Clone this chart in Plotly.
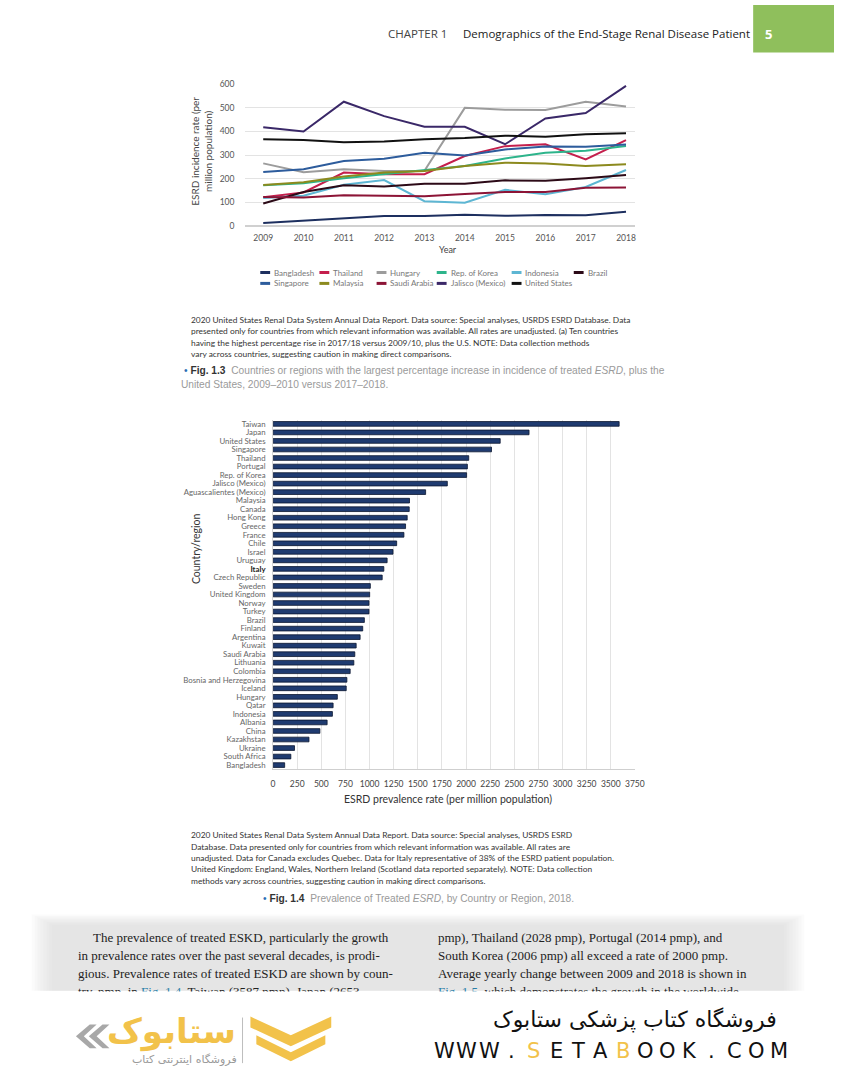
import plotly.graph_objects as go

W, H = 844, 1080

# ---------------- Data: Fig 1.3 (incidence) ----------------
years = [2009, 2010, 2011, 2012, 2013, 2014, 2015, 2016, 2017, 2018]
inc_bangladesh = [12, 21, 31, 42, 42, 47, 43, 46, 45, 60]
inc_singapore = [228, 240, 275, 285, 310, 298, 324, 336, 335, 345]
inc_thailand = [121, 142, 226, 219, 219, 296, 338, 346, 282, 363]
inc_malaysia = [173, 185, 209, 226, 233, 254, 268, 264, 254, 261]
inc_hungary = [265, 227, 240, 233, 234, 500, 492, 491, 526, 506]
inc_saudi = [123, 120, 130, 127, 126, 135, 144, 144, 162, 163]
inc_korea = [172, 181, 202, 219, 234, 254, 286, 310, 318, 339]
inc_jalisco = [418, 400, 526, 465, 420, 420, 346, 455, 478, 593]
inc_indonesia = [118, 128, 174, 194, 105, 98, 153, 134, 165, 237]
inc_us = [367, 364, 354, 358, 367, 372, 382, 378, 388, 393]
inc_brazil = [95, 144, 172, 167, 179, 179, 193, 191, 202, 216]

series_names = ["Bangladesh", "Thailand", "Hungary", "Rep. of Korea", "Indonesia", "Brazil",
                "Singapore", "Malaysia", "Saudi Arabia", "Jalisco (Mexico)", "United States"]
series_values = [inc_bangladesh, inc_thailand, inc_hungary, inc_korea, inc_indonesia, inc_brazil,
                 inc_singapore, inc_malaysia, inc_saudi, inc_jalisco, inc_us]
series_colors = ["#1d2f5f", "#c41f4c", "#9c9c9c", "#2db48b", "#5db6d3", "#2c0a17",
                 "#2d5c9c", "#8c8a1e", "#8c1436", "#3a2868", "#111111"]
year_ticks = [str(y) for y in years]
inc_ticks = [0, 100, 200, 300, 400, 500, 600]

# ---------------- Data: Fig 1.4 (prevalence) ----------------
countries = ["Taiwan", "Japan", "United States", "Singapore", "Thailand", "Portugal", "Rep. of Korea",
             "Jalisco (Mexico)", "Aguascalientes (Mexico)", "Malaysia", "Canada", "Hong Kong", "Greece",
             "France", "Chile", "Israel", "Uruguay", "Italy", "Czech Republic", "Sweden", "United Kingdom",
             "Norway", "Turkey", "Brazil", "Finland", "Argentina", "Kuwait", "Saudi Arabia", "Lithuania",
             "Colombia", "Bosnia and Herzegovina", "Iceland", "Hungary", "Qatar", "Indonesia", "Albania",
             "China", "Kazakhstan", "Ukraine", "South Africa", "Bangladesh"]
prevalence = [3587, 2653, 2354, 2264, 2028, 2014, 2006,
              1806, 1581, 1414, 1411, 1390, 1373,
              1356, 1281, 1243, 1182, 1148, 1131, 1008, 1001,
              994, 994, 946, 929, 902, 861, 847, 837,
              799, 765, 758, 666, 622, 615, 560,
              485, 372, 222, 184, 120]
prev_ticks = list(range(0, 3751, 250))


def px(x):
    return x / W


def py(y):
    return 1 - y / H


SANS = "Lato"
annotations = []
shapes = []


def ann(text, x, y, size, color="#333", xanchor="left", family=SANS, **kw):
    d = dict(text=text, x=px(x), y=py(y), xref="paper", yref="paper", xanchor=xanchor,
             yanchor="middle", showarrow=False, font=dict(size=size, color=color, family=family))
    d.update(kw)
    annotations.append(d)


def rect(x0, y0, x1, y1, color, layer="below", opacity=1):
    shapes.append(dict(type="rect", xref="paper", yref="paper", x0=px(x0), x1=px(x1),
                       y0=py(y1), y1=py(y0), fillcolor=color, line=dict(width=0),
                       layer=layer, opacity=opacity))


def poly(points, color, layer="above"):
    path = "M " + " L ".join(f"{px(a):.5f},{py(b):.5f}" for a, b in points) + " Z"
    shapes.append(dict(type="path", xref="paper", yref="paper", path=path, fillcolor=color,
                       line=dict(width=0), layer=layer))


fig = go.Figure()

for name, vals, col in zip(series_names, series_values, series_colors):
    fig.add_trace(go.Scatter(x=years, y=vals, mode="lines", name=name, xaxis="x", yaxis="y",
                             line=dict(color=col, width=2), showlegend=False))

bar_ticktext = ["<span style='color:#222'><b>Italy</b></span>" if c == "Italy" else c for c in countries]
fig.add_trace(go.Bar(x=prevalence, y=countries, orientation="h", xaxis="x2", yaxis="y2",
                     marker=dict(color="#1f3b70", line=dict(color="#0b1730", width=0.8)),
                     showlegend=False, width=0.55))

# ---------------- Header ----------------
rect(762, 0, 844, 48, "#8fbf5c")
ann("<b>5</b>", 772, 29, 13, "#ffffff", family="Open Sans")
ann("CHAPTER 1", 390, 29, 11.5, "#444", family="Open Sans")
ann("Demographics of the End-Stage Renal Disease Patient", 466, 29, 11.5, "#222", family="Open Sans")

# ---------------- Line chart labels ----------------
ann("ESRD incidence rate (per<br>million population)", 203, 148, 10, "#444", xanchor="center",
    textangle=-90)
ann("Year", 452, 247, 9, "#444", xanchor="center")

# manual legend
leg_cols = [262, 322, 380, 441, 517, 580]
leg_rows = [270, 281]
for i, (name, col) in enumerate(zip(series_names, series_colors)):
    r, c = divmod(i, 6)
    x0, y0 = leg_cols[c], leg_rows[r]
    shapes.append(dict(type="line", xref="paper", yref="paper", x0=px(x0), x1=px(x0 + 10),
                       y0=py(y0), y1=py(y0), line=dict(color=col, width=3)))
    ann(name, x0 + 12, y0, 8, "#777")

cap1 = ["2020 United States Renal Data System Annual Data Report. Data source: Special analyses, USRDS ESRD Database. Data",
        "presented only for countries from which relevant information was available. All rates are unadjusted. (a) Ten countries",
        "having the highest percentage rise in 2017/18 versus 2009/10, plus the U.S. NOTE: Data collection methods",
        "vary across countries, suggesting caution in making direct comparisons."]
for i, t in enumerate(cap1):
    ann(t, 190, 318 + i * 11.5, 8.4, "#333")

ann("<span style='color:#2a6fb4'>•</span> <b><span style='color:#333'>Fig. 1.3</span></b>  Countries or regions with the largest percentage increase in incidence of treated <i>ESRD</i>, plus the",
    183, 369, 10.2, "#9a9a9a", family="Liberation Sans")
ann("United States, 2009–2010 versus 2017–2018.", 180, 383, 10.2, "#9a9a9a", family="Liberation Sans")

# ---------------- Bar chart labels ----------------
ann("Country/region", 197, 549, 10.5, "#333", xanchor="center", textangle=-90)
ann("ESRD prevalence rate (per million population)", 452, 801, 10.5, "#333", xanchor="center")

cap2 = ["2020 United States Renal Data System Annual Data Report. Data source: Special analyses, USRDS ESRD",
        "Database. Data presented only for countries from which relevant information was available. All rates are",
        "unadjusted. Data for Canada excludes Quebec. Data for Italy representative of 38% of the ESRD patient population.",
        "United Kingdom: England, Wales, Northern Ireland (Scotland data reported separately). NOTE: Data collection",
        "methods vary across countries, suggesting caution in making direct comparisons."]
for i, t in enumerate(cap2):
    ann(t, 190, 838 + i * 11.5, 8.4, "#333")

ann("<span style='color:#2a6fb4'>•</span> <b><span style='color:#333'>Fig. 1.4</span></b>  Prevalence of Treated <i>ESRD</i>, by Country or Region, 2018.",
    263, 902, 10.2, "#9a9a9a", family="Liberation Sans")

# ---------------- Body text on grey band ----------------
for k in range(8):
    rect(30 + k * 3, 918 + k * 1.5, 814 - k * 3, 995, "#d8d8d8", opacity=0.09)
SERIF = "Liberation Serif"
left_lines = [(90, "The prevalence of treated ESKD, particularly the growth"),
              (75, "in prevalence rates over the past several decades, is prodi-"),
              (75, "gious. Prevalence rates of treated ESKD are shown by coun-"),
              (75, "try, pmp, in <span style='color:#2a7fa8'>Fig. 1.4</span>. Taiwan (3587 pmp), Japan (2653")]
right_lines = ["pmp), Thailand (2028 pmp), Portugal (2014 pmp), and",
               "South Korea (2006 pmp) all exceed a rate of 2000 pmp.",
               "Average yearly change between 2009 and 2018 is shown in",
               "<span style='color:#2a7fa8'>Fig. 1.5</span>, which demonstrates the growth in the worldwide"]
for i, (x, t) in enumerate(left_lines):
    ann(t, x, 941 + i * 18.3, 13, "#222", family=SERIF)
for i, t in enumerate(right_lines):
    ann(t, 440, 941 + i * 18.3, 13, "#222", family=SERIF)
# white band cutting the last text line
annotations.append(dict(text=" ", x=0, y=py(995), xref="paper", yref="paper", xanchor="left",
                        yanchor="top", showarrow=False, bgcolor="#ffffff", width=W, height=14,
                        borderpad=0, font=dict(size=6)))

# ---------------- Watermark / logo ----------------
gold = "#f2c24a"
poly([(252, 1021), (293, 1040), (334, 1021), (334, 1032), (293, 1051), (252, 1032)], gold)
poly([(258, 1040), (293, 1057), (328, 1040), (328, 1049), (293, 1066), (258, 1049)], gold)
shapes.append(dict(type="line", xref="paper", yref="paper", x0=px(244), x1=px(244),
                   y0=py(1022), y1=py(1068), line=dict(color="#bdbdbd", width=1)))
poly([(89, 1029), (75, 1041), (89, 1053), (96, 1053), (83, 1041), (96, 1029)], "#a8a8a8")
poly([(102, 1029), (88, 1041), (102, 1053), (109, 1053), (96, 1041), (109, 1029)], "#a8a8a8")
ann("<b>ستابوک</b>", 172, 1036, 34, gold, xanchor="center", family="DejaVu Sans")
ann("فروشگاه اینترنتی کتاب", 185, 1064, 11, "#9a9a9a", xanchor="center", family="DejaVu Sans")
ann("فروشگاه کتاب پزشکی ستابوک", 788, 1024, 22, "#111", xanchor="right", family="DejaVu Sans")
site = "WWW.SETABOOK.COM"
for i, ch in enumerate(site):
    col = gold if i in (4, 8) else "#111"
    ann(ch, 449 + i * 22.6, 1056, 21, col, xanchor="center", family="DejaVu Sans")

grid_col = "#e3e3e3"
fig.update_layout(
    width=W, height=H, margin=dict(l=0, r=0, t=0, b=0),
    paper_bgcolor="#ffffff", plot_bgcolor="rgba(0,0,0,0)",
    showlegend=False, bargap=0.45,
    annotations=annotations, shapes=shapes,
    xaxis=dict(domain=[px(247), px(642)], anchor="y", range=[2008.56, 2018.22],
               tickvals=years, ticktext=year_ticks, showgrid=False, zeroline=False, showline=False,
               tickfont=dict(size=8.5, color="#555", family=SANS), ticks="", ticklabelstandoff=6),
    yaxis=dict(domain=[py(223), py(80)], anchor="x", range=[0, 600], tickvals=inc_ticks,
               showgrid=True, gridcolor=grid_col, gridwidth=1, zeroline=True, zerolinecolor="#d0d0d0",
               showline=False, tickfont=dict(size=8.5, color="#555", family=SANS), ticks="",
               ticklabelstandoff=10),
    xaxis2=dict(domain=[px(275), px(642)], anchor="y2", range=[0, 3750], tickvals=prev_ticks,
                showgrid=True, gridcolor=grid_col, gridwidth=1, zeroline=False, showline=True,
                linecolor="#cfcfcf", tickfont=dict(size=8.5, color="#444", family=SANS), ticks="",
                ticklabelstandoff=6),
    yaxis2=dict(domain=[py(771.5), py(418.5)], anchor="x2", type="category",
                categoryorder="array", categoryarray=countries, tickvals=countries,
                ticktext=bar_ticktext, range=[len(countries) - 0.5, -0.5], showgrid=False,
                showline=True, linecolor="#d5d5d5", tickfont=dict(size=7.8, color="#666", family=SANS),
                ticks="", ticklabelstandoff=5),
)

page_js = ("var s=document.createElement('style');"
           "s.textContent='html,body{margin:0;padding:0;overflow:hidden;width:844px;height:1080px;}';"
           "document.head.appendChild(s);")
fig.write_html("out.html", config={"displayModeBar": False}, post_script=page_js)
